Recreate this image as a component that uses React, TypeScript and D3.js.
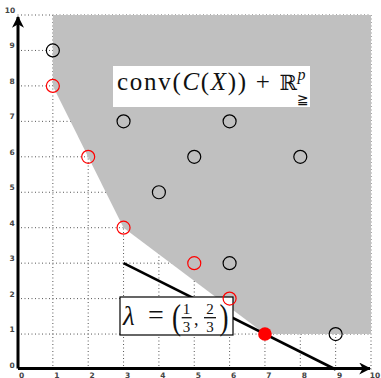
import React from "react";
import * as d3 from "d3";

// Feasible outcome vectors C(X) (not nondominated)
const dominatedX = [1, 3, 6, 5, 8, 4, 6, 9];
const dominatedY = [9, 7, 7, 6, 6, 5, 3, 1];
// Nondominated outcome vectors
const nondomX = [1, 2, 3, 5, 6];
const nondomY = [8, 6, 4, 3, 2];
// Supported point optimal for the weighting
const optimalX = [7];
const optimalY = [1];
// Boundary of conv(C(X)) + R^p (closed at the top-right corner of the view)
const hullX = [1, 1, 3, 7, 10, 10];
const hullY = [10, 8, 4, 1, 1, 10];
// Level line of the weighted sum 1/3 x + 2/3 y = 3
const levelX = [3, 9];
const levelY = [3, 0];
const ticks = [0, 1, 2, 3, 4, 5, 6, 7, 8, 9, 10];

const W = 381;
const H = 378;

export default function App() {
  const x = d3.scaleLinear().domain([0, 10]).range([17.5, 371]);
  const y = d3.scaleLinear().domain([0, 10]).range([369.5, 15]);

  const hullPath = d3.line<number>()
    .x((i) => x(hullX[i]))
    .y((i) => y(hullY[i]))(hullX.map((_, i) => i)) + "Z";

  const tickFont = { fontFamily: "DejaVu Sans", fontSize: 7.5, fontWeight: 700, fill: "#444" };
  const serif = "Liberation Serif";
  const ink = "#111";

  return (
    <svg width={W} height={H} style={{ position: "absolute", left: 0, top: 0 }}>
      <rect width={W} height={H} fill="#fff" />
      <defs>
        <marker id="arrow" viewBox="0 0 10 10" refX="9" refY="5" markerWidth="4" markerHeight="4" orient="auto" markerUnits="strokeWidth">
          <path d="M0,0 L10,5 L0,10 L3,5 Z" fill="#000" />
        </marker>
      </defs>

      {/* dotted grid */}
      <g stroke="#555" strokeWidth={1} strokeDasharray="1 2.5">
        {ticks.slice(1).map((t) => (
          <line key={"v" + t} x1={x(t)} x2={x(t)} y1={y(0)} y2={y(10)} />
        ))}
        {ticks.slice(1).map((t) => (
          <line key={"h" + t} x1={x(0)} x2={x(10)} y1={y(t)} y2={y(t)} />
        ))}
      </g>

      {/* conv(C(X)) + R^p */}
      <path d={hullPath} fill="#c0c0c0" stroke="none" />

      {/* weighted-sum level line */}
      <line x1={x(levelX[0])} y1={y(levelY[0])} x2={x(levelX[1])} y2={y(levelY[1])} stroke="#000" strokeWidth={2.6} />

      {/* axes */}
      <line x1={x(0) + 0.5} y1={y(0) - 1} x2={x(10) - 1} y2={y(0) - 1} stroke="#000" strokeWidth={3} markerEnd="url(#arrow)" />
      <line x1={x(0) + 0.5} y1={y(0) - 1} x2={x(0) + 0.5} y2={y(10) + 2} stroke="#000" strokeWidth={3} markerEnd="url(#arrow)" />

      {/* tick labels */}
      {ticks.map((t) => (
        <text key={"xl" + t} x={x(t) + 4} y={y(0) + 8} textAnchor="middle" {...tickFont}>{t}</text>
      ))}
      {ticks.map((t) => (
        <text key={"yl" + t} x={t === 10 ? 10 : 12} y={y(t) - 2} textAnchor="middle" {...tickFont}>{t}</text>
      ))}

      {/* region label */}
      <rect x={113} y={66} width={197} height={41} fill="#fff" />
      <text x={117} y={89.5} fontFamily={serif} fontSize={25} fill={ink} textLength={180} lengthAdjust="spacing">
        <tspan>conv(</tspan>
        <tspan fontStyle="italic">C</tspan>
        <tspan>(</tspan>
        <tspan fontStyle="italic">X</tspan>
        <tspan>)) + </tspan>
        <tspan fontFamily="DejaVu Serif" fontSize={21}>ℝ</tspan>
      </text>
      <text x={297.5} y={80} fontFamily={serif} fontStyle="italic" fontSize={16} fill={ink}>p</text>
      <text x={297} y={104} fontFamily="DejaVu Sans" fontSize={14} fill={ink}>≧</text>

      {/* weighting label */}
      <rect x={120} y={297} width={113} height={38} fill="#fff" stroke="#000" strokeWidth={1.2} />
      <text x={123} y={325} fontFamily={serif} fontStyle="italic" fontSize={27} fill={ink}>λ</text>
      <text x={156} y={324} textAnchor="middle" fontFamily={serif} fontSize={28} fill={ink}>=</text>
      <text x={172} y={329} fontFamily={serif} fontSize={36} fill={ink} transform="translate(172 329) scale(0.75 1) translate(-172 -329)">(</text>
      <text x={186.5} y={314} textAnchor="middle" fontFamily={serif} fontSize={15} fill={ink}>1</text>
      <line x1={181.7} x2={191.7} y1={317.7} y2={317.7} stroke={ink} strokeWidth={1.3} />
      <text x={186.5} y={332} textAnchor="middle" fontFamily={serif} fontSize={15} fill={ink}>3</text>
      <text x={194} y={325} fontFamily={serif} fontSize={18} fill={ink}>,</text>
      <text x={210} y={314} textAnchor="middle" fontFamily={serif} fontSize={15} fill={ink}>2</text>
      <line x1={204} x2={216} y1={317.7} y2={317.7} stroke={ink} strokeWidth={1.3} />
      <text x={210} y={332} textAnchor="middle" fontFamily={serif} fontSize={15} fill={ink}>3</text>
      <text x={219.5} y={329} fontFamily={serif} fontSize={36} fill={ink} transform="translate(219.5 329) scale(0.75 1) translate(-219.5 -329)">)</text>

      {/* outcome vectors */}
      {dominatedX.map((v, i) => (
        <circle key={"d" + i} cx={x(v)} cy={y(dominatedY[i])} r={6.5} fill="none" stroke="#000" strokeWidth={1.2} />
      ))}
      {nondomX.map((v, i) => (
        <circle key={"n" + i} cx={x(v)} cy={y(nondomY[i])} r={6.5} fill="none" stroke="#f00" strokeWidth={1.2} />
      ))}
      {optimalX.map((v, i) => (
        <circle key={"o" + i} cx={x(v)} cy={y(optimalY[i])} r={6.8} fill="#f00" />
      ))}
    </svg>
  );
}
